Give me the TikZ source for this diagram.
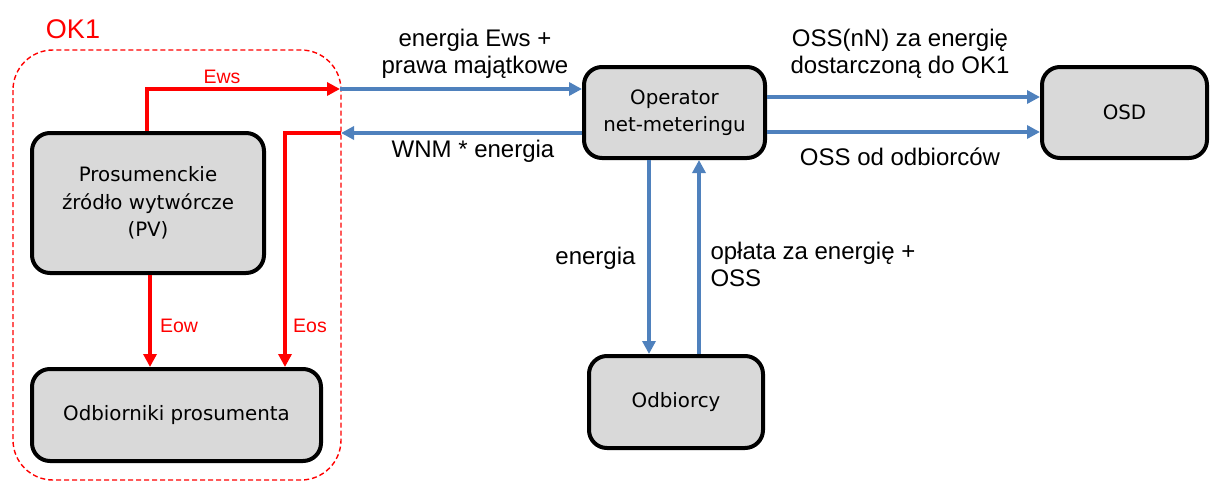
\documentclass[tikz,border=0pt]{standalone}
\usepackage{fontspec}
\setmainfont{Liberation Sans}
\newfontfamily\boxfont{DejaVu Sans}
\usetikzlibrary{arrows.meta}
\definecolor{flowblue}{HTML}{4F81BD}
\definecolor{boxgray}{HTML}{D9D9D9}
\definecolor{okred}{HTML}{FF0000}
\begin{document}
\begin{tikzpicture}[x=1pt,y=-1pt,
  box/.style={draw=black, line width=4pt, fill=boxgray, rounded corners=18pt,
    align=center, inner sep=0pt,
    font=\boxfont\fontsize{19.8}{27.5}\selectfont},
  tip/.style={-{Triangle[length=13pt,width=13pt]}},
  blueflow/.style={draw=flowblue, line width=4pt, tip},
  redflow/.style={draw=okred, line width=4pt, tip},
  lbl/.style={align=center, font=\fontsize{24}{27}\selectfont},
  redlbl/.style={text=okred, font=\fontsize{19.5}{22}\selectfont},
  zone/.style={draw=okred, line width=1.4pt, dash pattern=on 5pt off 3pt, rounded corners=40pt}]

\useasboundingbox (0,0) rectangle (1211,482);

% prosumer zone
\draw[zone] (13,50) rectangle (341,480);
\node[text=okred, font=\fontsize{27}{30}\selectfont] (ok1) at (73,29) {OK1};

% boxes
\node[box, minimum width=232pt, minimum height=140pt] (pv) at (148,203)
  {Prosumenckie\\źródło wytwórcze\\(PV)};
\node[box, minimum width=289pt, minimum height=92pt] (odb) at (176.5,415)
  {Odbiorniki prosumenta};
\node[box, minimum width=181pt, minimum height=91pt] (op) at (674.5,112.5)
  {Operator\\net-meteringu};
\node[box, minimum width=165pt, minimum height=91pt] (osd) at (1124.5,112.5)
  {OSD};
\node[box, minimum width=174pt, minimum height=92pt] (rec) at (676,402)
  {Odbiorcy};

% helper points
\coordinate (ewsx) at (147,0);
\coordinate (ewsturn) at (147,89);
\coordinate (ewsgate) at (340,89);
\coordinate (wnmgate) at (341,133);
\coordinate (eosturn) at (285,133);
\coordinate (eowx) at (150,0);
\coordinate (eosx) at (285,0);
\coordinate (dnx) at (649,0);
\coordinate (upx) at (699,0);
\coordinate (topy) at (0,97);
\coordinate (boty) at (0,132);

% flows inside the zone
\draw[redflow] (pv.north -| ewsx) -- (ewsturn) -- (ewsgate);
\draw[redflow] (wnmgate) -- (eosturn) -- (odb.north -| eosx);
\draw[redflow] (pv.south -| eowx) -- (odb.north -| eowx);

% flows to and from the operator
\draw[blueflow] (ewsgate) -- (op.west |- ewsgate);
\draw[blueflow] (op.west |- wnmgate) -- (wnmgate);
\draw[blueflow] (op.east |- topy) -- (osd.west |- topy);
\draw[blueflow] (op.east |- boty) -- (osd.west |- boty);
\draw[blueflow] (op.south -| dnx) -- (rec.north -| dnx);
\draw[blueflow] (rec.north -| upx) -- (op.south -| upx);

% labels
\node[redlbl] (lews) at (222,77) {Ews};
\node[redlbl] (leow) at (179,326) {Eow};
\node[redlbl] (leos) at (310,326) {Eos};
\node[lbl] (lsell) at (475,54) {energia Ews +\\prawa majątkowe};
\node[lbl] (lwnm) at (473,151) {WNM * energia};
\node[lbl] (loss) at (900,54) {OSS(nN) za energię\\dostarczoną do OK1};
\node[lbl] (lossr) at (900,157) {OSS od odbiorców};
\node[lbl, anchor=east] (lnrg) at (639,258) {energia};
\node[lbl, anchor=west, align=left] (lpay) at (707,264) {opłata za energię +\\OSS};
\end{tikzpicture}
\end{document}
